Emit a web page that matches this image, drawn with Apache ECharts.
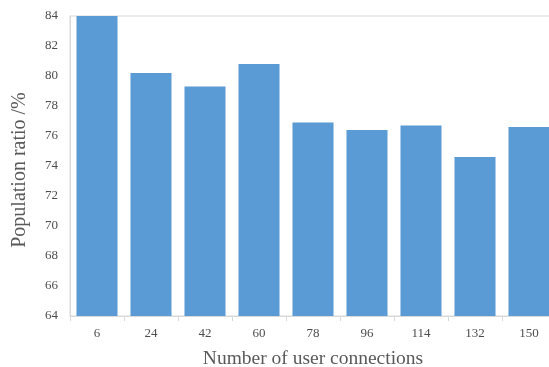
<!DOCTYPE html>
<html><head><meta charset="utf-8">
<script src="https://cdn.jsdelivr.net/npm/echarts@6/dist/echarts.min.js"></script>
<style>html,body{margin:0;padding:0;background:#fff}#c{width:549px;height:367px}</style>
</head><body><div id="c"></div>
<script>
const categories = ['6','24','42','60','78','96','114','132','150'];
const values = [84.0, 80.2, 79.3, 80.8, 76.9, 76.4, 76.7, 74.6, 76.6];
const yTicks = [64, 84, 2];

const chart = echarts.init(document.getElementById('c'), null, {renderer:'canvas'});
const font = '"Liberation Serif", "Times New Roman", serif';
chart.setOption({
  animation:false,
  grid:{left:70, top:16, width:486, height:300, outerBoundsMode:'none', containLabel:false,
    show:true, borderColor:'#d9d9d9', borderWidth:1},
  xAxis:{type:'category', data:categories,
    name:'Number of user connections', nameLocation:'middle', nameGap:33,
    nameTextStyle:{fontFamily:font, fontSize:19.5, color:'#595959'},
    axisLine:{lineStyle:{color:'#d9d9d9'}},
    axisTick:{show:true, length:5, lineStyle:{color:'#d9d9d9'}},
    axisLabel:{fontFamily:font, fontSize:13, color:'#4d4d4d', margin:11}},
  yAxis:{type:'value', min:yTicks[0], max:yTicks[1], interval:yTicks[2],
    name:'Population ratio /%', nameLocation:'middle', nameGap:40,
    nameTextStyle:{fontFamily:font, fontSize:20, color:'#595959', padding:[0,8,0,0]},
    axisLine:{show:true, lineStyle:{color:'#d9d9d9'}},
    axisTick:{show:false},
    splitLine:{show:false},
    axisLabel:{fontFamily:font, fontSize:13, color:'#4d4d4d', margin:12}},
  series:[{type:'bar', data:values, barCategoryGap:'24%', itemStyle:{color:'#5b9bd5'}}]
});
</script></body></html>
